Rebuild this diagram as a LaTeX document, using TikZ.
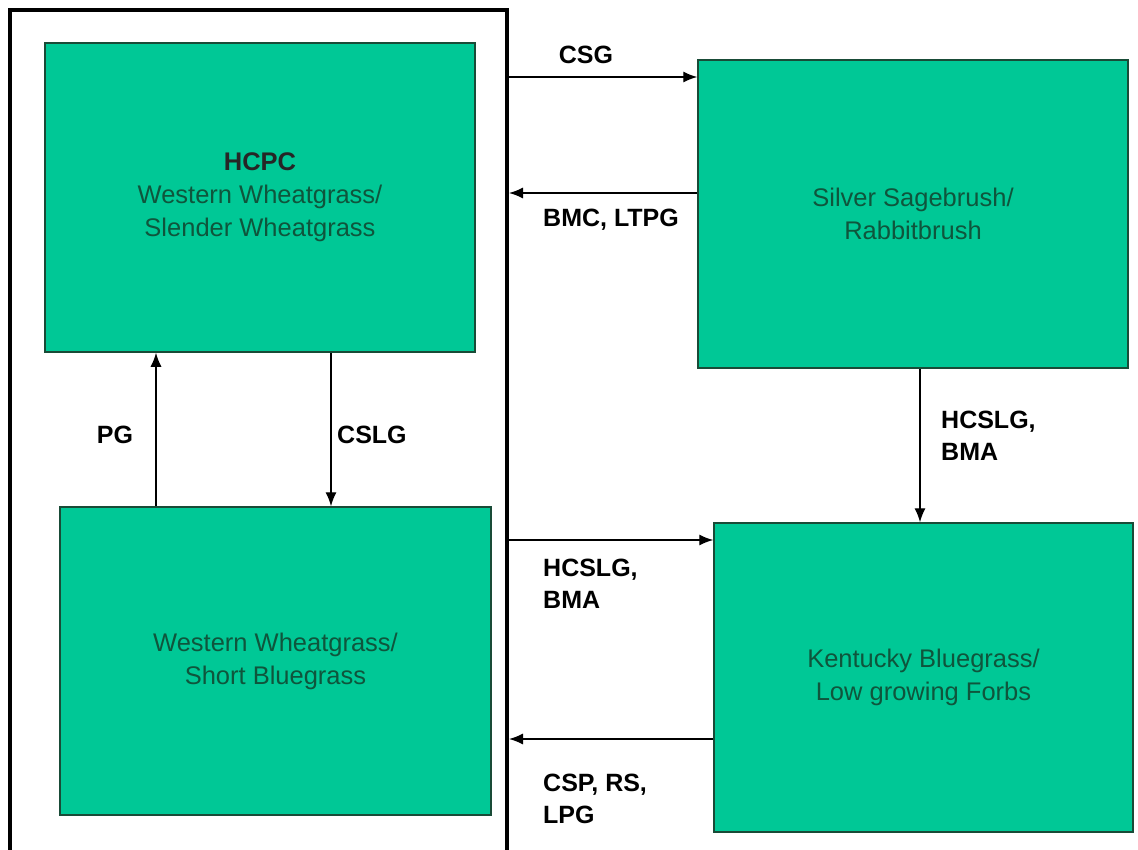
\documentclass[tikz,border=0pt]{standalone}
\usepackage{fontspec}
\setmainfont{Liberation Sans}
\usepackage{xcolor}
\usetikzlibrary{arrows.meta}
\definecolor{stategreen}{RGB}{0,200,150}
\definecolor{stateline}{RGB}{25,75,55}
\definecolor{statetext}{RGB}{15,85,60}

\begin{document}
\begin{tikzpicture}[x = 1pt, y = -1pt,
st/.style = {draw = stateline, fill = stategreen, line width = 1.5pt, text = statetext, align = center, inner sep = 0pt, font = \fontsize{25.5}{33}\selectfont},
arr/.style = {-{Latex[length=14pt,width=11pt]}, line width = 1.3pt},
lbl/.style = {font = \fontsize{25}{32}\selectfont\bfseries, inner sep = 0pt, align = left}
]
\useasboundingbox (0,0) rectangle (1138,849);
\clip (0,0) rectangle (1138,849);
% reference community frame
\node[draw, line width = 4pt, minimum width = 497pt, minimum height = 870pt, inner sep = 0pt] (grp) at (258.5,445) {};
\node[st, minimum width = 430pt, minimum height = 309pt] (hcpc) at (260,197.5) {\textcolor{black!85}{\textbf{HCPC}}\\Western Wheatgrass/\\Slender Wheatgrass};
\node[st, minimum width = 431pt, minimum height = 308pt] (wsb) at (275.5,661) {Western Wheatgrass/\\Short Bluegrass};
\node[st, minimum width = 430pt, minimum height = 308pt] (sage) at (913,214) {Silver Sagebrush/\\Rabbitbrush};
\node[st, minimum width = 419pt, minimum height = 309pt] (kbf) at (923.5,677.5) {Kentucky Bluegrass/\\Low growing Forbs};
% transitions
\draw[arr] (wsb.north -| 156,0) -- (hcpc.south -| 156,0);
\draw[arr] (hcpc.south -| 331,0) -- (wsb.north -| 331,0);
\draw[arr] (grp.east |- 0,77) -- (sage.west |- 0,77);
\draw[arr] (sage.west |- 0,193) -- (grp.east |- 0,193);
\draw[arr] (sage.south -| 920,0) -- (kbf.north -| 920,0);
\draw[arr] (grp.east |- 0,540) -- (kbf.west |- 0,540);
\draw[arr] (kbf.west |- 0,739) -- (grp.east |- 0,739);
\node[lbl] (pg) at (115,435) {PG};
\node[lbl, anchor = west] (cslg) at (337,435) {CSLG};
\node[lbl] (csg) at (586,55) {CSG};
\node[lbl, anchor = west] (bmc) at (543,220) {BMC, LTPG};
\node[lbl, anchor = west] (hcslg1) at (941,436) {HCSLG,\\BMA};
\node[lbl, anchor = west] (hcslg2) at (543,584) {HCSLG,\\BMA};
\node[lbl, anchor = west] (csp) at (543,799) {CSP, RS,\\LPG};
\end{tikzpicture}
\end{document}
